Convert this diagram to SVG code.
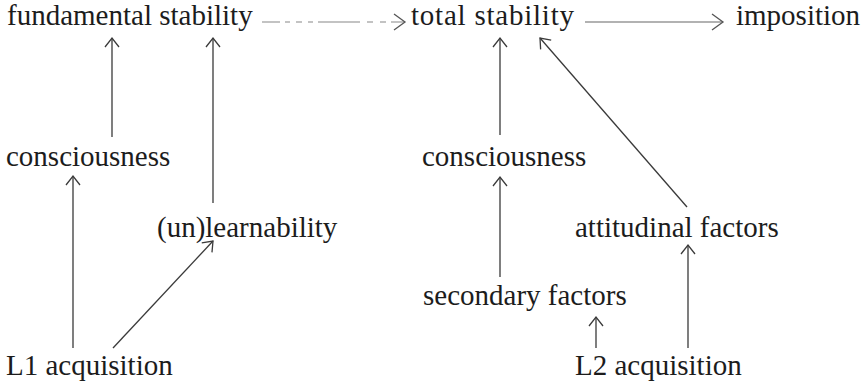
<svg xmlns="http://www.w3.org/2000/svg" width="866" height="385" viewBox="0 0 866 385">
<style>
  text { font-family: "Liberation Serif", "Times New Roman", serif; font-size: 29px; fill: #1c1c1c; }
  .c { fill: none; stroke: #3a3a3a; stroke-width: 1.3; marker-end: url(#arr); }
  .light { stroke: #666; stroke-width: 1.1; }
  .dash { stroke: #888; stroke-width: 1.1; stroke-dasharray: 18 5 5 6 6 6 5 5 42 7 6 7 6 5; }
</style>
<defs>
  <marker id="arr" markerUnits="userSpaceOnUse" viewBox="-12 -10 14 20" markerWidth="14" markerHeight="20" refX="0" refY="0" orient="auto">
    <path d="M -9,-7 L 0,0 L -9,7" fill="none" stroke="#3a3a3a" stroke-width="1.3"/>
  </marker>
  <marker id="arrH" markerUnits="userSpaceOnUse" viewBox="-14 -10 16 20" markerWidth="16" markerHeight="20" refX="0" refY="0" orient="auto">
    <path d="M -11,-8 L 0,0 L -11,8" fill="none" stroke="#555" stroke-width="1.3"/>
  </marker>
</defs>
<rect width="866" height="385" fill="#ffffff"/>

<g id="connectors">
  <line class="c dash" x1="262" y1="22" x2="405" y2="22" style="marker-end:url(#arrH)"/>
  <line class="c light" x1="585" y1="22" x2="723" y2="22" style="marker-end:url(#arrH)"/>
  <line class="c" x1="112" y1="137" x2="112" y2="38"/>
  <line class="c" x1="213" y1="203" x2="213" y2="38"/>
  <line class="c" x1="73" y1="348" x2="73" y2="176"/>
  <line class="c" x1="113" y1="348" x2="213" y2="241"/>
  <line class="c" x1="500" y1="135" x2="500" y2="38"/>
  <line class="c" x1="500" y1="277" x2="500" y2="177"/>
  <line class="c" x1="687" y1="207" x2="540" y2="38"/>
  <line class="c" x1="688" y1="348" x2="688" y2="245"/>
  <line class="c" x1="596" y1="348" x2="596" y2="317"/>
</g>

<g id="fundamental-stability"><text x="7" y="25">fundamental stability</text></g>
<g id="total-stability"><text x="411" y="25" textLength="163" lengthAdjust="spacing">total stability</text></g>
<g id="imposition"><text x="736" y="25">imposition</text></g>
<g id="consciousness-l1"><text x="6" y="166">consciousness</text></g>
<g id="unlearnability"><text x="157" y="237">(un)learnability</text></g>
<g id="l1-acquisition"><text x="6" y="375">L1 acquisition</text></g>
<g id="consciousness-l2"><text x="422" y="166">consciousness</text></g>
<g id="attitudinal-factors"><text x="575" y="237">attitudinal factors</text></g>
<g id="secondary-factors"><text x="423" y="305">secondary factors</text></g>
<g id="l2-acquisition"><text x="575" y="375">L2 acquisition</text></g>
</svg>
